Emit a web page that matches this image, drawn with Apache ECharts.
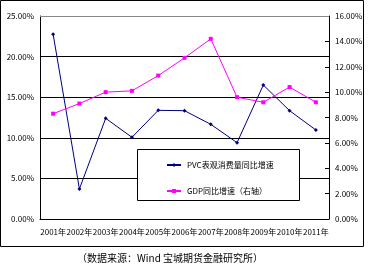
<!DOCTYPE html>
<html><head><meta charset="utf-8">
<script src="https://cdn.jsdelivr.net/npm/echarts@6/dist/echarts.min.js"></script>
<style>html,body{margin:0;padding:0;background:#fff}#c{width:370px;height:268px}</style>
</head><body><div id="c"></div>
<script>
var categories = ['2001年','2002年','2003年','2004年','2005年','2006年','2007年','2008年','2009年','2010年','2011年'];
var pvcGrowth = [22.75, 3.7, 12.4, 10.06, 13.38, 13.34, 11.66, 9.4, 16.5, 13.34, 10.96];
var gdpGrowth = [8.3, 9.1, 10.0, 10.1, 11.3, 12.7, 14.2, 9.6, 9.2, 10.4, 9.2];
var seriesNames = ['PVC表观消费量同比增速', 'GDP同比增速（右轴）'];
var sourceText = '（数据来源：Wind 宝城期货金融研究所）';

var FONT = '"Noto Sans CJK SC", "DejaVu Sans", sans-serif';
var chart = echarts.init(document.getElementById('c'), null, {renderer: 'canvas'});
chart.setOption({
  animation: false,
  backgroundColor: '#fff',
  textStyle: {fontFamily: FONT},
  grid: {left: 40, right: 41, top: 16, bottom: 49},
  xAxis: {
    type: 'category', data: categories, boundaryGap: true,
    axisLine: {lineStyle: {color: '#000', width: 1}},
    axisTick: {inside: true, length: 4, lineStyle: {color: '#000'}},
    axisLabel: {fontSize: 8, color: '#000', margin: 9, interval: 0, fontFamily: FONT}
  },
  yAxis: [{
    type: 'value', min: 0, max: 25, interval: 5,
    axisLine: {show: true, lineStyle: {color: '#000'}},
    axisTick: {show: false},
    axisLabel: {fontSize: 8, color: '#000', margin: 6, formatter: function(v){return v.toFixed(2)+'%';}},
    splitLine: {lineStyle: {color: '#000', width: 1}}
  }, {
    type: 'value', min: 0, max: 16, interval: 2, position: 'right',
    axisLine: {show: true, lineStyle: {color: '#000'}},
    axisTick: {show: true, inside: true, length: 4, lineStyle: {color: '#000'}},
    axisLabel: {fontSize: 8, color: '#000', margin: 6, formatter: function(v){return v.toFixed(2)+'%';}},
    splitLine: {show: false}
  }],
  legend: {
    left: 161, top: 156, orient: 'vertical', itemGap: 18, itemWidth: 14, itemHeight: 5,
    z: 10,
    textStyle: {fontSize: 8, color: '#000', fontFamily: FONT, padding: [0, 0, 0, 1]},
    data: seriesNames
  },
  graphic: [
    {type: 'rect', z: 5, shape: {x: 137.5, y: 149.5, width: 162, height: 51}, style: {fill: '#fff', stroke: '#000', lineWidth: 1}},
    {type: 'rect', z: 0, shape: {x: 0.5, y: 0.5, width: 363, height: 246}, style: {fill: 'none', stroke: '#000', lineWidth: 1}},
    {type: 'text', z: 5, left: 77, top: 253, style: {text: sourceText, fill: '#000', font: '10px ' + FONT}},
    {type: 'line', z: 5, shape: {x1: 40, y1: 16.5, x2: 329, y2: 16.5}, style: {stroke: '#888', lineWidth: 1}}
  ],
  series: [{
    name: seriesNames[0], type: 'line', yAxisIndex: 0, data: pvcGrowth,
    symbol: 'diamond', symbolSize: 4, z: 3,
    lineStyle: {color: '#000080', width: 1},
    itemStyle: {color: '#000080'}
  }, {
    name: seriesNames[1], type: 'line', yAxisIndex: 1, data: gdpGrowth,
    symbol: 'rect', symbolSize: 4, z: 3,
    lineStyle: {color: '#ff00ff', width: 1},
    itemStyle: {color: '#ff00ff'}
  }]
});
</script></body></html>
